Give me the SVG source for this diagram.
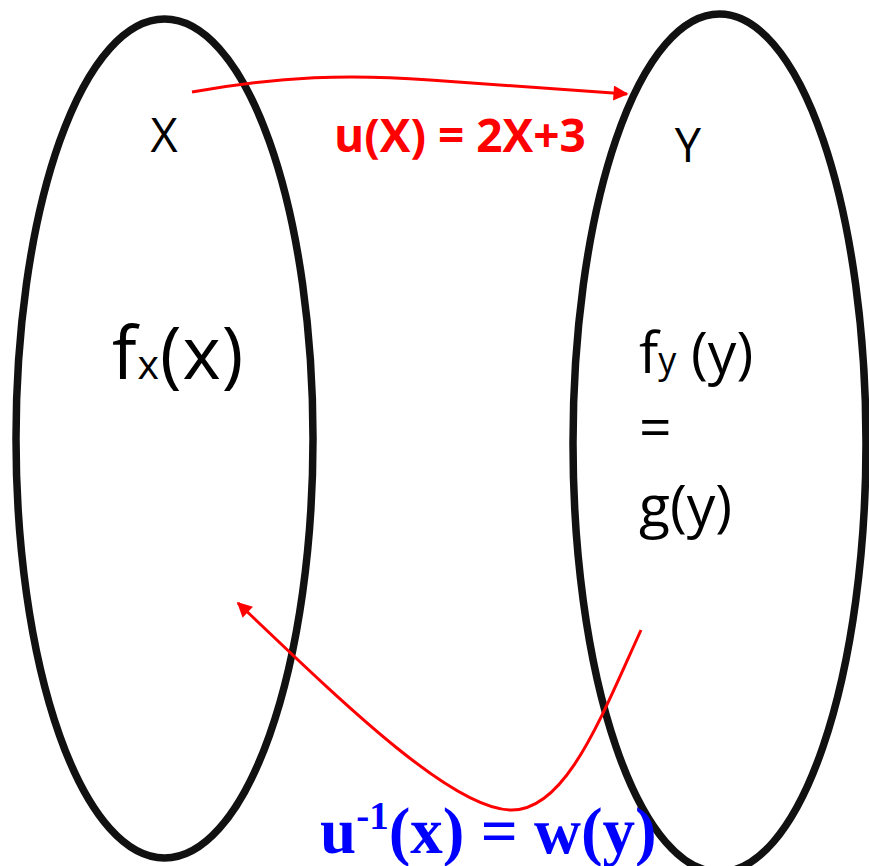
<svg xmlns="http://www.w3.org/2000/svg" width="869" height="866" viewBox="0 0 869 866">
<defs>
<style>
.set{fill:none;stroke:#111;stroke-width:7.5}
.conn{fill:none;stroke:#ff0000;stroke-width:3}
.lbl{font-family:"Open Sans","Liberation Sans",sans-serif;fill:#000}
.red{font-family:"Open Sans","Liberation Sans",sans-serif;font-weight:bold;fill:#ff0000}
.blue{font-family:"Liberation Serif","Times New Roman",serif;font-weight:bold;fill:#0000ff}
</style>
<marker id="ah" viewBox="0 0 10 10" refX="9" refY="5" markerWidth="6" markerHeight="5" markerUnits="strokeWidth" orient="auto">
<path d="M0,0 L10,5 L0,10 z" fill="#ff0000"/>
</marker>
</defs>
<rect width="869" height="866" fill="#fff"/>
<g id="setX">
<ellipse class="set" cx="164.5" cy="438.5" rx="148.5" ry="419.5"/>
<text class="lbl" x="164" y="152" font-size="47" text-anchor="middle">X</text>
<text class="lbl" x="112" y="379" font-size="73" letter-spacing="1">f<tspan font-size="41">x</tspan>(x)</text>
</g>
<g id="setY">
<ellipse class="set" cx="719.5" cy="443" rx="146.5" ry="429"/>
<text class="lbl" x="688" y="162" font-size="47" text-anchor="middle">Y</text>
<text class="lbl" x="639" y="373" font-size="57">f<tspan font-size="36">y</tspan> (y)</text>
<text class="lbl" x="639" y="447" font-size="57">=</text>
<text class="lbl" x="639" y="526" font-size="57">g(y)</text>
</g>
<g id="connectors">
<path class="conn" d="M192,92 C 280,76 350,74 430,80 C 500,85 570,90 627,94" marker-end="url(#ah)"/>
<path class="conn" d="M641,630 C 600,720 565,812 510,810 C 450,808 340,700 238,603" marker-end="url(#ah)"/>
</g>
<g id="labels">
<text class="red" x="334" y="152" font-size="46">u(X) = 2X+3</text>
<text class="blue" x="320" y="853" font-size="65">u<tspan font-size="39" dy="-24">-1</tspan><tspan dy="24">(x) = w(y)</tspan></text>
</g>
</svg>
